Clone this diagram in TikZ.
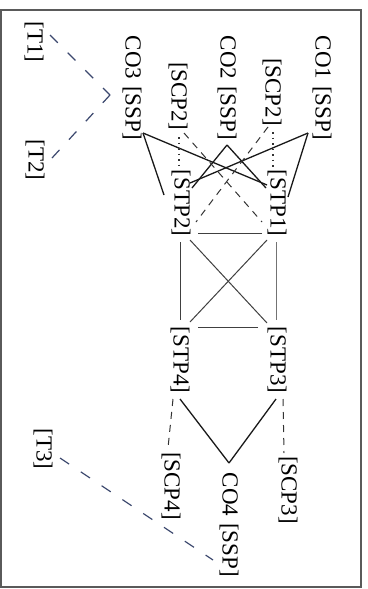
\documentclass[tikz,border=0pt]{standalone}
\usepackage{fontspec}
\setmainfont{Liberation Serif}
\usetikzlibrary{calc}
\definecolor{tcol}{RGB}{60,72,110}
\definecolor{framecol}{RGB}{90,90,90}
\begin{document}
\begin{tikzpicture}[x=1pt,y=-1pt,
  lbl/.style={rotate=-90, inner sep=0pt, font=\fontsize{23}{23}\selectfont},
  coln/.style={line width=1.3pt, black!90},
  sqln/.style={line width=1pt, black!75},
  dashln/.style={line width=1pt, black!80, dash pattern=on 7pt off 6pt},
  dotln/.style={line width=1.1pt, black!80, dash pattern=on 1.5pt off 4pt},
  tln/.style={line width=1.2pt, tcol, dash pattern=on 11pt off 14pt},
]
\useasboundingbox (0,0) rectangle (367,589);
\fill[white] (0,0) rectangle (367,589);
\draw[framecol, line width=1.3pt] (1,10) rectangle (361,587);

\node[lbl] (co1) at (322,88) {CO1\hspace{0.3em}[SSP]};
\node[lbl] (co2) at (227,88) {CO2\hspace{0.3em}[SSP]};
\node[lbl] (co3) at (132,88) {CO3\hspace{0.3em}[SSP]};
\node[lbl] (scpa) at (272,92) {[SCP2]};
\node[lbl] (scpb) at (178,96) {[SCP2]};
\node[lbl] (stp1) at (277,203) {[STP1]};
\node[lbl] (stp2) at (181,203) {[STP2]};
\node[lbl] (stp3) at (277,360) {[STP3]};
\node[lbl] (stp4) at (180,360) {[STP4]};
\node[lbl] (scp3) at (288,490) {[SCP3]};
\node[lbl] (scp4) at (171,486) {[SCP4]};
\node[lbl] (co4) at (229,525) {CO4\hspace{0.3em}[SSP]};
\node[lbl] (t1) at (34,42) {[T1]};
\node[lbl] (t2) at (35,160) {[T2]};
\node[lbl] (t3) at (43,449) {[T3]};

% CO to STP
\draw[coln] ($(co1)+(-14,45)$) -- ($(stp1)+(11,-6)$);
\draw[coln] ($(co1)+(-14,45)$) -- ($(stp2)+(9,-20)$);
\draw[coln] ($(co3)+(11,45)$) -- ($(stp2)+(-17,-8)$);
\draw[coln] ($(co3)+(11,45)$) -- ($(stp1)+(-10,-18)$);
\draw[coln] ($(co2)+(0,57)$) -- ($(stp2)+(11,-15)$);
\draw[coln] ($(co2)+(0,57)$) -- ($(stp1)+(-11,-15)$);

% SCP2 to STP
\draw[dotln] ($(scpa)+(1,40)$) -- ($(stp1)+(-4,-36)$);
\draw[dotln] ($(scpb)+(1,41)$) -- ($(stp2)+(-2,-36)$);
\draw[dashln] ($(scpa)+(-4,35)$) -- ($(stp2)+(15,19)$);
\draw[dashln] ($(scpb)+(6,37)$) -- ($(stp1)+(-15,19)$);

% STP mesh
\draw[sqln] ($(stp1)+(-15,30)$) -- ($(stp2)+(17,30)$);
\draw[sqln, black!55] ($(stp1)+(-1,39)$) -- ($(stp3)+(-1,-40)$);
\draw[sqln] ($(stp2)+(-1,39)$) -- ($(stp4)+(0,-40)$);
\draw[sqln] ($(stp3)+(-19,-33)$) -- ($(stp4)+(18,-33)$);
\draw[sqln] ($(stp1)+(-10,37)$) -- ($(stp4)+(10,-38)$);
\draw[sqln] ($(stp2)+(9,37)$) -- ($(stp3)+(-10,-37)$);

% lower part
\draw[coln] ($(stp3)+(-1,39)$) -- ($(co4)+(0,-62)$);
\draw[coln] ($(stp4)+(0,39)$) -- ($(co4)+(0,-62)$);
\draw[dashln] ($(stp3)+(6,39)$) -- ($(scp3)+(-4,-37)$);
\draw[dashln] ($(stp4)+(-7,39)$) -- ($(scp4)+(-3,-38)$);

% T links
\draw[tln] ($(t1)+(16,-7)$) -- ($(co3)+(-22,7)$);
\draw[tln] ($(t2)+(17,-2)$) -- ($(co3)+(-22,7)$);
\draw[tln] ($(t3)+(17,9)$) -- ($(co4)+(-16,35)$);
\end{tikzpicture}
\end{document}
